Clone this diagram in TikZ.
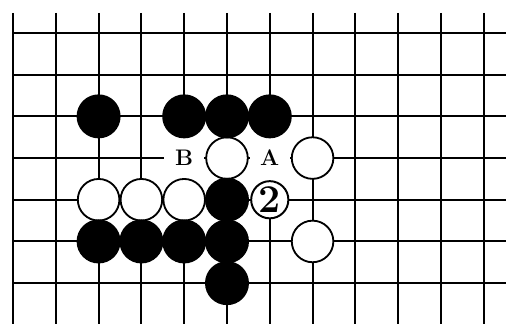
\documentclass[tikz,border=0pt]{standalone}
\usepackage{fontspec}
\usepackage{tikz}

\tikzset{
  black stone/.style={circle,fill=black,minimum size=1.1cm,inner sep=0pt},
  white stone/.style={circle,draw=black,line width=1.3pt,fill=white,minimum size=1.04cm,inner sep=0pt},
  move stone/.style={circle,draw=black,line width=1.4pt,fill=white,minimum size=0.93cm,inner sep=0pt,font=\fontsize{28}{28}\selectfont\bfseries},
  point label/.style={rectangle,fill=white,minimum width=1.0cm,minimum height=1.16cm,inner sep=0pt,font=\fontsize{16}{16}\selectfont\bfseries}
}

\begin{document}
\begin{tikzpicture}[x=1.07cm,y=-1.0425cm]

% Board frame
\def\Top{-0.48};
\def\Bot{6.98};
\def\Right{11.52};
\useasboundingbox (-0.304,-0.791) rectangle (11.52,6.978);

% Grid lines
\foreach \c in {1,...,11}
{\draw[line width=1.4pt] (\c,\Top) -- (\c,\Bot);}
\foreach \r in {0,...,6}
{\draw[line width=1.4pt] (0,\r) -- (\Right,\r);}
\draw[line width=1.8pt] (0,\Top) -- (0,\Bot);

% Marked points
\node[point label] (ptB) at (4,3) {B};
\node[point label] (ptA) at (6,3) {A};

% White stones
\foreach \c/\r in {5/3,7/3,2/4,3/4,4/4,7/5}
{\node[white stone] (w\c\r) at (\c,\r) {};}

% Black stones
\foreach \c/\r in {2/2,4/2,5/2,6/2,5/4,2/5,3/5,4/5,5/5,5/6}
{\node[black stone] (b\c\r) at (\c,\r) {};}

% Numbered move
\node[move stone] (m2) at (6,4) {2};
\end{tikzpicture}
\end{document}
